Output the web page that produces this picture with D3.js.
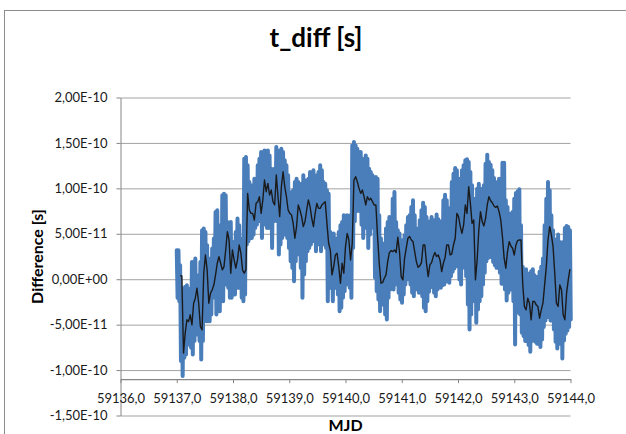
<!DOCTYPE html>
<html>
<head>
<meta charset="utf-8">
<script src="https://cdn.jsdelivr.net/npm/d3@7"></script>
<style>
  html, body { margin: 0; padding: 0; background: #ffffff; }
  svg { display: block; }
  text { font-family: Lato, "Open Sans", "Liberation Sans", sans-serif; }
</style>
</head>
<body>
<svg id="chart" width="626" height="434"></svg>
<script>
// ---- labels ----
const chartTitle = "t_diff [s]";
const xTitle = "MJD";
const yTitle = "Difference [s]";

// ---- sampling of the series: one bin every 0.03 d from MJD 59137.0 ----
const startMJD = 59137.0;
const stepDays = 0.03;
const psUnit = 1e-12; // values below are in picoseconds

// highest value of t_diff inside each bin (ps)
const highPs = [
  31.9, 31.9, 15.4, -10.3, -10.3, -8.4, -6.6, -13.9, -10.3, 19.0,
  19.0, 22.7, -10.3, 4.4, 19.0, 53.8, 55.7, 52.0, 37.4, 22.7,
  15.4, 33.7, 44.7, 74.0, 75.8, 59.3, 52.0, 92.3, 94.1, 92.3,
  63.0, 59.3, 63.0, 41.0, 41.0, 52.0, 66.7, 59.3, 41.0, 44.7,
  132.6, 134.4, 125.3, 107.0, 103.3, 99.6, 110.6, 110.6, 125.3, 132.6,
  139.9, 134.4, 141.8, 138.1, 141.8, 136.3, 121.6, 117.9, 121.6,
  145.4, 128.9, 141.8, 143.6, 139.9, 130.8, 125.3, 114.3, 96.0, 92.3,
  97.8, 107.0, 110.6, 107.0, 103.3, 105.1, 114.3, 108.8, 107.0, 110.6,
  117.9, 110.6, 119.8, 114.3, 108.8, 117.9, 125.3, 119.8, 107.0, 105.1,
  97.8, 94.1, 52.0, 48.4, 50.2, 44.7, 44.7, 52.0, 59.3, 63.0,
  70.3, 63.0, 70.3, 66.7, 70.3, 147.3, 150.9, 147.3, 143.6, 139.9,
  139.9, 132.6, 127.1, 136.3, 132.6, 121.6, 117.9, 114.3, 110.6,
  112.5, 110.6, 70.3, 44.7, 35.5, 39.2, 55.7, 63.0, 68.5, 63.0,
  88.6, 96.0, 63.0, 53.8, 50.2, 42.9, 42.9, 48.4, 59.3, 68.5,
  70.3, 79.5, 86.8, 70.3, 55.7, 53.8, 64.8, 75.8, 84.2, 79.5,
  68.5, 63.0, 63.7, 68.5, 64.8, 64.8, 71.1, 65.9, 60.1, 63.7,
  86.8, 93.0, 86.8, 78.4, 71.1, 107.0, 116.1, 122.3, 119.8, 105.1,
  110.6, 119.8, 125.3, 130.8, 131.9, 128.9, 117.9, 103.3, 88.6,
  77.7, 99.6, 105.1, 99.6, 90.5, 103.3, 127.1, 137.0, 128.9, 126.0,
  119.8, 111.4, 105.1, 107.0, 110.6, 110.6, 128.2, 128.2, 86.8, 79.5,
  72.2, 70.3, 74.0, 88.6, 94.9, 96.7, 98.9, 59.3, 13.6, 9.9,
  11.0, 6.2, 5.1, 8.8, 11.0, 4.4, 0.7, 2.6, 8.1, 13.6,
  22.7, 59.3, 88.6, 107.0, 97.8, 70.3, 53.8, 42.9, 44.0, 49.1,
  41.0, 26.4, 41.0, 56.4, 58.6, 57.5, 53.8
];

// lowest value of t_diff inside each bin (ps)
const lowPs = [
  -20.5, -24.2, -90.1, -106.6, -86.4, -82.8, -71.8, -71.8, -75.5, -82.8,
  -68.1, -60.8, -57.1, -68.1, -88.3, -68.1, -27.8, -46.2, -46.2, -46.2,
  -38.8, -20.5, -20.5, -38.8, -16.8, -35.2, -24.2, -24.2, 1.5, -5.9,
  -9.5, -20.5, -20.5, -13.2, -16.8, 8.8, -9.5, 1.5, -20.5, -24.2,
  -16.8, 38.1, 41.8, 45.4, 45.4, 49.1, 56.4, 60.1, 67.4, 63.7,
  45.4, 60.1, 60.1, 56.4, 56.4, 60.1, 34.4, 63.7, 74.7,
  63.7, 27.1, 38.1, 45.4, 56.4, 49.1, 45.4, 34.4, 19.8, 12.5,
  -2.2, 19.8, 27.1, 30.8, 12.5, -20.5, 5.1, 19.8, 30.8, 34.4,
  38.1, 41.8, 45.4, 30.8, 38.1, 41.8, 30.8, 39.9, 38.1, 34.4,
  -24.2, -9.5, -5.9, -24.2, -9.5, -2.2, -16.8, -35.2, -31.5, -20.5,
  -13.2, -5.9, -2.2, -9.5, -20.5, 34.4, 63.7, 74.7, 82.1, 74.7,
  60.1, 45.4, 56.4, 60.1, 34.4, 49.1, 60.1, 56.4, 1.5,
  -13.2, -22.3, -35.2, -27.8, -24.2, -38.8, -44.3, -20.5, -11.4, -5.9,
  -11.4, -5.9, -2.9, -15.0, -22.3, -26.0, -16.8, -5.9, 3.3, -0.4,
  -5.9, -15.0, -18.7, -11.4, -5.9, -15.0, -15.0, -18.7, -31.5, -35.2,
  -24.2, -13.9, -7.7, -8.8, -15.0, -18.7, -11.4, -7.7, -9.5, -6.6,
  -5.9, -2.9, 3.3, -4.0, 3.3, 8.1, 11.7, 17.9, 14.3, -0.4,
  -5.9, 12.5, 25.3, 3.3, -27.8, -55.3, -38.8, -5.9, -24.2,
  -48.0, -33.3, -24.2, -18.7, -5.9, 7.0, 19.8, 23.4, 27.1, 24.2,
  19.0, 15.4, 12.5, 15.4, 7.0, -5.1, -0.4, -11.4, -23.4, -15.0,
  -2.9, -11.4, -24.2, -71.8, -37.0, -26.0, -38.8, -59.0, -62.6, -68.1,
  -65.2, -72.5, -79.9, -68.1, -61.5, -68.9, -71.1, -64.5, -74.7, -66.3,
  -52.7, -45.4, -41.8, -39.6, -45.4, -40.7, -55.3, -68.9, -76.2, -71.1,
  -68.1, -87.2, -67.4, -60.1, -56.4, -52.7, -44.3
];

// moving average of t_diff (ps); null where the window is not yet full
const meanPs = [
  null, null, 4.0, 3.7, -81.3, -59.3, -44.7, -46.5, -39.2, -50.2,
  -26.4, -20.9, -9.9, -26.4, -52.0, -55.7, 6.6, 26.7, 10.3, -26.4,
  -15.4, -11.7, -6.2, 4.8, 17.6, 24.9, 17.6, 10.3, 13.9, 32.2,
  52.4, 43.2, 6.6, 32.2, 21.2, 12.1, 21.2, 37.7, 28.6, 10.3,
  6.6, 10.3, 94.5, 76.2, 72.5, 72.5, 65.2, 83.5, 85.3, 90.8,
  72.5, 87.2, 109.2, 96.3, 105.5, 92.7, 98.2, 85.3, 81.7,
  114.7, 90.8, 68.9, 101.8, 118.3, 101.8, 90.8, 76.2, 72.5, 70.7,
  61.5, 45.1, 57.9, 81.7, 76.2, 68.9, 57.9, 63.4, 76.2, 87.2,
  79.9, 67.0, 57.9, 72.5, 83.5, 78.0, 78.0, 81.7, 83.5, 85.3,
  61.5, 39.6, 32.2, 4.8, 13.9, 26.7, 28.6, 13.9, -4.4, 17.6,
  6.6, 35.9, 50.5, 43.2, 21.2, 39.6, 109.2, 112.8, 107.3, 100.0,
  94.5, 98.2, 90.8, 81.7, 90.8, 87.2, 89.0, 85.3, 81.7,
  81.7, 46.9, 17.6, -4.4, -3.7, 1.1, 4.8, 19.4, 29.3, 31.5,
  30.4, 32.2, 29.3, 46.2, 30.4, 2.9, -0.7, 23.1, 34.1, 45.1,
  46.9, 43.2, 41.4, 30.4, 19.4, 13.2, 14.7, 18.3, 37.7, 37.7,
  17.6, 2.9, 15.8, 18.3, 24.9, 29.3, 24.9, 26.7, 21.2, 8.4,
  17.6, 23.8, 37.7, 37.7, 26.7, 27.8, 37.7, 45.1, 72.5, 68.9,
  57.9, 50.5, 59.7, 81.7, 72.5, 101.8, 83.5, 61.5, 65.2,
  -0.7, 21.2, 54.2, 74.4, 63.4, 58.6, 67.0, 81.7, 90.8, 86.4,
  84.2, 80.6, 79.1, 80.6, 74.4, 65.2, 46.9, 23.1, 12.1, 30.4,
  41.4, 36.6, 34.1, 26.7, 37.7, 42.5, 43.2, 43.2, -4.4, -30.0,
  -33.7, -20.9, -26.4, -44.7, -24.5, -24.5, -28.2, -30.0, -42.9, -33.7,
  -26.4, -6.2, 13.9, 43.2, 57.9, 48.7, 35.9, 6.6, -26.4, -30.0,
  -6.2, -11.7, -39.2, -44.7, -15.4, -0.7, 11.0
];

// ---- axes ----
const xTickValues = [59136, 59137, 59138, 59139, 59140, 59141, 59142, 59143, 59144];
const yTickValues = [-1.5e-10, -1.0e-10, -5.0e-11, 0, 5.0e-11, 1.0e-10, 1.5e-10, 2.0e-10];
const xAxisCrossesAt = -1.1e-10;

// ---- geometry ----
const plot = { left: 120.5, right: 570.5, top: 97.5, bottom: 415.5 };

const svg = d3.select("#chart");

const x = d3.scaleLinear()
  .domain([xTickValues[0], xTickValues[xTickValues.length - 1]])
  .range([plot.left, plot.right]);
const y = d3.scaleLinear()
  .domain([yTickValues[0], yTickValues[yTickValues.length - 1]])
  .range([plot.bottom, plot.top]);

// "2,00E-10" style labels
function sciComma(v) {
  if (v === 0) return "0,00E+00";
  const [m, e] = Math.abs(v).toExponential(2).split("e");
  const ex = parseInt(e, 10);
  return (v < 0 ? "-" : "") + m.replace(".", ",") + "E" + (ex < 0 ? "-" : "+") +
    String(Math.abs(ex)).padStart(2, "0");
}
const mjdComma = v => d3.format(".1f")(v).replace(".", ",");

// chart frame
svg.append("rect")
  .attr("x", 4.5).attr("y", 10.5)
  .attr("width", 700).attr("height", 500)
  .attr("fill", "#ffffff")
  .attr("stroke", "#8c8c8c").attr("stroke-width", 1);

// title
svg.append("text")
  .attr("x", 316).attr("y", 47)
  .attr("text-anchor", "middle")
  .attr("font-size", 26).attr("font-weight", "bold")
  .attr("fill", "#000")
  .text(chartTitle);

// horizontal gridlines
svg.append("g")
  .attr("transform", `translate(${plot.left},0)`)
  .call(d3.axisLeft(y).tickValues(yTickValues).tickSize(-(plot.right - plot.left)).tickFormat(""))
  .call(g => g.select(".domain").remove())
  .call(g => g.selectAll("line").attr("stroke", "#a3a3a3").attr("stroke-width", 1));

// data: min/max envelope drawn as a dense zigzag, then the moving average
const envelope = [];
highPs.forEach((h, i) => {
  const t = startMJD + i * stepDays;
  envelope.push({ t: t, v: h * psUnit });
  envelope.push({ t: t + stepDays / 2, v: lowPs[i] * psUnit });
});
const meanPts = meanPs.map((v, i) => ({ t: startMJD + i * stepDays, v: v === null ? null : v * psUnit }));

const line = d3.line()
  .defined(d => d.v !== null)
  .x(d => x(d.t))
  .y(d => y(d.v));

svg.append("path")
  .datum(envelope)
  .attr("d", line)
  .attr("fill", "none")
  .attr("stroke", "#4a7ebb")
  .attr("stroke-width", 4)
  .attr("stroke-linejoin", "round")
  .attr("stroke-linecap", "round");

svg.append("path")
  .datum(meanPts)
  .attr("d", line)
  .attr("fill", "none")
  .attr("stroke", "#1a1a1a")
  .attr("stroke-width", 1.4)
  .attr("stroke-linejoin", "round");

// y axis
const yAxis = svg.append("g")
  .attr("transform", `translate(${plot.left},0)`)
  .call(d3.axisLeft(y).tickValues(yTickValues).tickSize(4).tickSizeOuter(0).tickPadding(9).tickFormat(sciComma));
yAxis.select(".domain").attr("stroke", "#868686");
yAxis.selectAll(".tick line").attr("stroke", "#868686");
yAxis.selectAll("text").attr("font-size", 13).attr("fill", "#1a1a1a")
  .attr("font-family", "Lato, 'Open Sans', sans-serif");

// x axis, crossing the value axis at -1.1E-10
const xAxis = svg.append("g")
  .attr("transform", `translate(0,${y(xAxisCrossesAt)})`)
  .call(d3.axisBottom(x).tickValues(xTickValues).tickSize(4).tickSizeOuter(0).tickFormat(mjdComma));
xAxis.select(".domain").attr("stroke", "#868686").attr("stroke-width", 1.3);
xAxis.selectAll(".tick line").attr("stroke", "#868686");
xAxis.selectAll("text").attr("y", 24).attr("dy", null)
  .attr("font-size", 13).attr("fill", "#1a1a1a")
  .attr("font-family", "Lato, 'Open Sans', sans-serif");

// axis titles
svg.append("text")
  .attr("transform", `translate(43,${(plot.top + plot.bottom) / 2}) rotate(-90)`)
  .attr("text-anchor", "middle")
  .attr("font-size", 16).attr("font-weight", "bold")
  .attr("fill", "#000")
  .text(yTitle);

svg.append("text")
  .attr("x", (plot.left + plot.right) / 2).attr("y", 431)
  .attr("text-anchor", "middle")
  .attr("font-size", 16).attr("font-weight", "bold")
  .attr("fill", "#000")
  .text(xTitle);
</script>
</body>
</html>
